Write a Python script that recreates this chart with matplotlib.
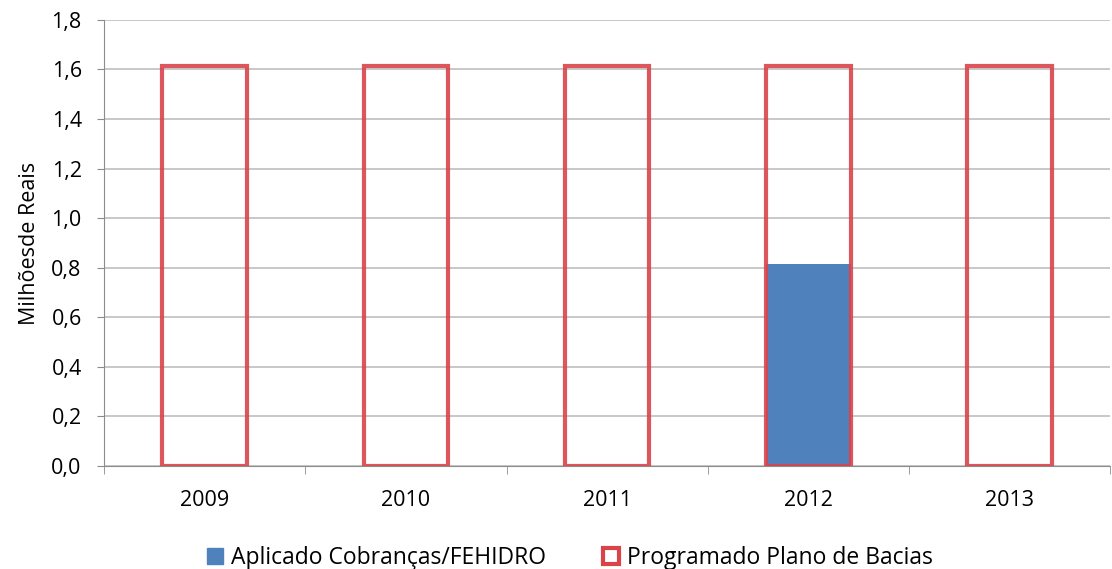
import matplotlib.pyplot as plt
from matplotlib.lines import Line2D
from matplotlib.ticker import FuncFormatter, MultipleLocator

years = ['2009', '2010', '2011', '2012', '2013']
aplicado = [0, 0, 0, 0.815, 0]
programado = [1.615, 1.615, 1.615, 1.615, 1.615]

plt.rcParams['font.family'] = ['Open Sans', 'DejaVu Sans']

fig = plt.figure(figsize=(11.12, 5.69), dpi=100)
ax = fig.add_axes([0.0935, 0.181, 0.905, 0.784])

x = range(len(years))
ax.bar(x, aplicado, width=0.42, color='#4f81bd', zorder=2)
ax.bar(x, programado, width=0.42, facecolor='none', edgecolor='#d9434a',
       linewidth=3, alpha=0.9, zorder=3)

ax.set_xlim(-0.5, 4.5)
ax.set_ylim(0, 1.8)
ax.yaxis.set_major_locator(MultipleLocator(0.2))
ax.yaxis.set_major_formatter(FuncFormatter(lambda v, p: f'{v:.1f}'.replace('.', ',')))
ax.grid(axis='y', color='#bfbfbf', linewidth=1.2, zorder=0)
ax.set_axisbelow(True)

ax.set_xticks(list(x))
ax.set_xticklabels(years)
ax.set_xticks([i + 0.5 for i in range(-1, 5)], minor=True)
ax.tick_params(axis='x', which='major', length=0, pad=17, labelsize=15.5)
ax.tick_params(axis='x', which='minor', length=6, color='#8c8c8c')
ax.tick_params(axis='y', length=5, color='#8c8c8c', labelsize=15.5, pad=11)

for s in ['top', 'right']:
    ax.spines[s].set_visible(False)
ax.spines['left'].set_color('#8c8c8c')
ax.spines['bottom'].set_color('#8c8c8c')

ax.set_ylabel('Milhõesde Reais', fontsize=15.5, labelpad=8)

handles = [
    Line2D([], [], marker='s', linestyle='none', markersize=11,
           markerfacecolor='#4f81bd', markeredgecolor='#4f81bd'),
    Line2D([], [], marker='s', linestyle='none', markersize=11,
           markerfacecolor='white', markeredgecolor='#d9434a', markeredgewidth=3),
]
fig.legend(handles, ['Aplicado Cobranças/FEHIDRO', 'Programado Plano de Bacias'],
           loc='center', bbox_to_anchor=(0.51, 0.019), ncol=2, frameon=False,
           fontsize=16.5, handletextpad=0.1, columnspacing=2.2, handlelength=1.2)

fig.savefig('out.png', dpi=100)
